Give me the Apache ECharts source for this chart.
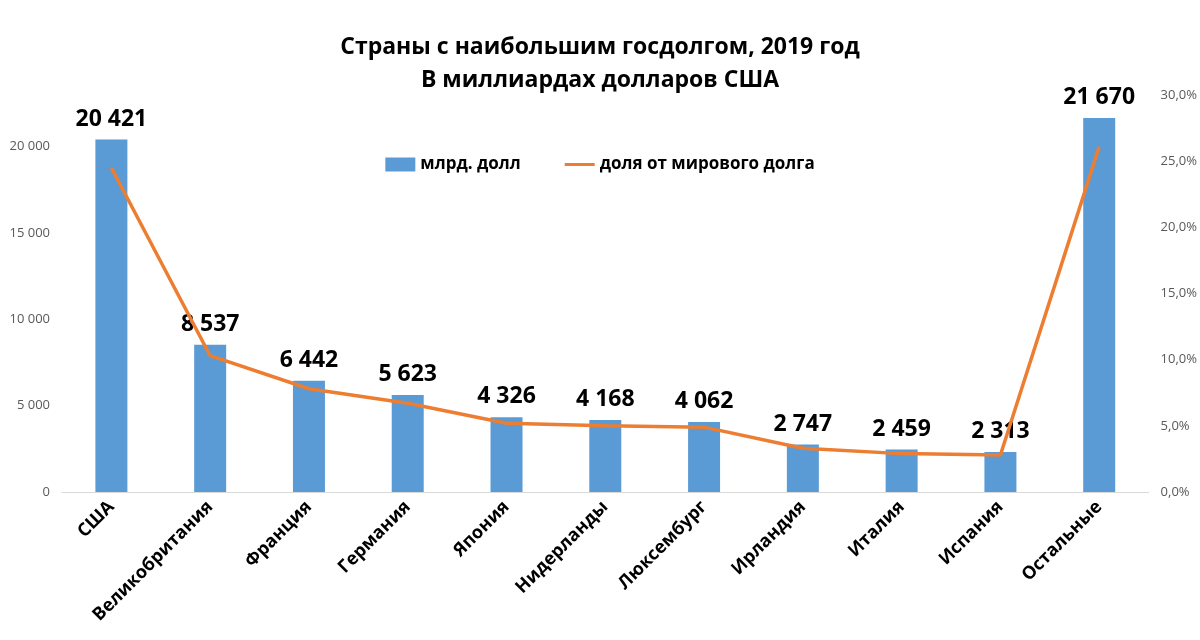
<!DOCTYPE html>
<html><head><meta charset="utf-8">
<script src="https://cdn.jsdelivr.net/npm/echarts@6/dist/echarts.min.js"></script>
<style>html,body{margin:0;padding:0;background:#fff}#c{width:1200px;height:640px}</style>
</head><body><div id="c"></div>
<script>
var categories = ["США","Великобритания","Франция","Германия","Япония","Нидерланды","Люксембург","Ирландия","Италия","Испания","Остальные"];
var debtValues = [20421,8537,6442,5623,4326,4168,4062,2747,2459,2313,21670];
var shareValues = [0.245,0.103,0.078,0.067,0.052,0.050,0.049,0.033,0.029,0.028,0.261];
var leftTicks = [0,5000,10000,15000,20000];
var FONT = "Open Sans";
function fmtNum(v){return String(Math.round(v)).replace(/\B(?=(\d{3})+(?!\d))/g,' ');}
var chart = echarts.init(document.getElementById('c'));
chart.setOption({
  backgroundColor:'#fff',
  textStyle:{fontFamily:FONT},
  title:{
    text:'Страны с наибольшим госдолгом, 2019 год\nВ миллиардах долларов США',
    left:'center', top:26,
    textStyle:{fontFamily:FONT,fontSize:23,fontWeight:'bold',color:'#000',lineHeight:33}
  },
  legend:{
    top:151, left:'center', itemGap:44, itemWidth:30, itemHeight:14,
    textStyle:{fontFamily:FONT,fontSize:17,fontWeight:'bold',color:'#000'},
    data:[{name:'млрд. долл',icon:'rect'},{name:'доля от мирового долга',icon:'path://M0,0 L30,0 L30,3 L0,3 Z'}]
  },
  grid:{left:62,right:50,top:95,height:397,containLabel:false},
  xAxis:{
    type:'category', data:categories,
    axisLine:{lineStyle:{color:'#d9d9d9'}},
    axisTick:{show:false},
    axisLabel:{rotate:45,interval:0,margin:12,fontFamily:FONT,fontSize:18,fontWeight:'bold',color:'#000'}
  },
  yAxis:[{
    type:'value', min:0, max:23000, interval:5000,
    splitLine:{show:false}, axisLine:{show:false}, axisTick:{show:false},
    axisLabel:{fontFamily:FONT,fontSize:13,color:'#595959',margin:12,showMaxLabel:false,
      formatter:function(v){return leftTicks.indexOf(v)>=0?fmtNum(v):'';}}
  },{
    type:'value', min:0, max:0.30, interval:0.05,
    splitLine:{show:false}, axisLine:{show:false}, axisTick:{show:false},
    axisLabel:{fontFamily:FONT,fontSize:13,color:'#595959',margin:12,
      formatter:function(v){return (v*100).toFixed(1).replace('.',',')+'%';}}
  }],
  series:[{
    name:'млрд. долл', type:'bar', data:debtValues, barWidth:32,
    itemStyle:{color:'#5B9BD5'},
    label:{show:true,position:'top',distance:9,fontFamily:FONT,fontSize:23,fontWeight:'bold',color:'#000',
      formatter:function(p){return fmtNum(p.value);}}
  },{
    name:'доля от мирового долга', type:'line', yAxisIndex:1, data:shareValues,
    symbol:'none', lineStyle:{color:'#ED7D31',width:3.5}, itemStyle:{color:'#ED7D31'}
  }]
});
</script></body></html>
